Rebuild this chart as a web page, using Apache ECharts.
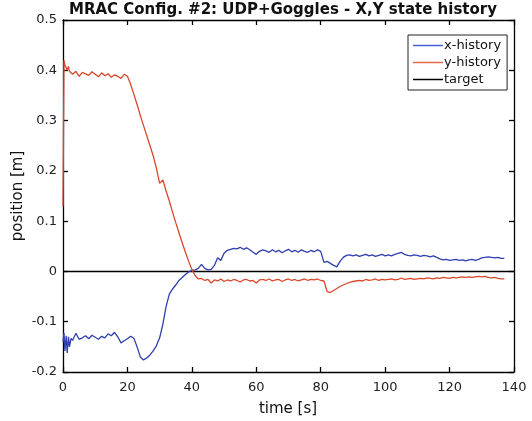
<!DOCTYPE html>
<html><head><meta charset="utf-8">
<script src="https://cdn.jsdelivr.net/npm/echarts@6/dist/echarts.min.js"></script>
<style>html,body{margin:0;padding:0;background:#fff}#c{width:532px;height:421px}</style>
</head><body><div id="c"></div>
<script>
var titleText = 'MRAC Config. #2: UDP+Goggles - X,Y state history';
var xLabel = 'time [s]';
var yLabel = 'position [m]';
var seriesNames = ['x-history', 'y-history', 'target'];

var timeS = [0,0.3,0.6,1,1.3,1.7,2,2.5,3,4,5,6,7,8,9,10,11,12,13,14,15,16,17,18,19,20,
21,22,23,24,25,26,27,28,29,30,31,32,33,34,35,36,37,38,39,40,41,42,43,44,45,46,47,48,49,50,
51,52,53,54,55,56,57,58,59,60,61,62,63,64,65,66,67,68,69,70,71,72,73,74,75,76,77,78,79,80,
81,82,83,84,85,86,87,88,89,90,91,92,93,94,95,96,97,98,99,100,101,102,103,104,105,106,107,108,109,110,
111,112,113,114,115,116,117,118,119,120,121,122,123,124,125,126,127,128,129,130,131,132,133,134,135,136,137];

var xHistory = [-0.14,-0.122,-0.158,-0.128,-0.162,-0.13,-0.15,-0.133,-0.137,-0.123,-0.135,-0.132,-0.128,-0.134,-0.127,-0.131,-0.135,-0.129,-0.132,-0.124,-0.128,-0.121,-0.13,-0.142,-0.138,-0.134,
-0.129,-0.133,-0.15,-0.17,-0.176,-0.172,-0.166,-0.158,-0.148,-0.132,-0.105,-0.07,-0.045,-0.035,-0.027,-0.018,-0.012,-0.006,-0.001,0.002,0.003,0.006,0.014,0.006,0.003,0.004,0.012,0.027,0.022,0.036,
0.042,0.044,0.046,0.045,0.048,0.044,0.047,0.043,0.038,0.034,0.04,0.043,0.041,0.038,0.043,0.039,0.042,0.037,0.041,0.044,0.039,0.042,0.038,0.043,0.04,0.038,0.042,0.039,0.043,0.04,
0.018,0.02,0.016,0.012,0.009,0.02,0.028,0.032,0.033,0.031,0.033,0.03,0.032,0.034,0.031,0.033,0.03,0.032,0.034,0.031,0.033,0.031,0.034,0.036,0.038,0.034,0.032,0.031,0.033,0.032,
0.03,0.032,0.031,0.029,0.031,0.028,0.025,0.023,0.024,0.022,0.023,0.024,0.022,0.023,0.021,0.023,0.024,0.022,0.024,0.027,0.028,0.029,0.028,0.027,0.028,0.026,0.026];

var yHistory = [0.13,0.42,0.41,0.405,0.4,0.408,0.398,0.395,0.392,0.398,0.388,0.396,0.393,0.39,0.397,0.392,0.387,0.395,0.389,0.393,0.386,0.391,0.388,0.384,0.392,0.388,
0.372,0.352,0.332,0.31,0.29,0.27,0.25,0.23,0.205,0.175,0.182,0.16,0.14,0.118,0.097,0.077,0.057,0.038,0.02,0.004,-0.008,-0.015,-0.014,-0.018,-0.016,-0.023,-0.017,-0.019,-0.015,-0.02,
-0.017,-0.019,-0.016,-0.018,-0.021,-0.017,-0.016,-0.019,-0.018,-0.023,-0.017,-0.016,-0.018,-0.015,-0.019,-0.017,-0.016,-0.02,-0.017,-0.015,-0.018,-0.016,-0.019,-0.017,-0.015,-0.018,-0.016,-0.017,-0.015,-0.018,
-0.019,-0.04,-0.042,-0.038,-0.034,-0.03,-0.027,-0.024,-0.022,-0.02,-0.019,-0.018,-0.019,-0.016,-0.018,-0.017,-0.015,-0.018,-0.016,-0.017,-0.016,-0.015,-0.017,-0.016,-0.013,-0.016,-0.015,-0.014,-0.016,-0.015,
-0.014,-0.015,-0.013,-0.014,-0.015,-0.013,-0.014,-0.012,-0.013,-0.014,-0.012,-0.013,-0.012,-0.011,-0.012,-0.011,-0.012,-0.011,-0.01,-0.011,-0.01,-0.012,-0.013,-0.012,-0.014,-0.015,-0.015];

var targetTime = [0, 140];
var targetVals = [0, 0];

var xTicks = [0,20,40,60,80,100,120,140];
var yTicks = [-0.2,-0.1,0,0.1,0.2,0.3,0.4,0.5];

function pairs(t, v){ return t.map(function(tt,i){ return [tt, v[i]]; }); }

var chart = echarts.init(document.getElementById('c'), null, {renderer:'canvas'});
var font = 'DejaVu Sans';
var axStyle = {color:'#000', width:1.3};
chart.setOption({
  animation:false,
  backgroundColor:'#fff',
  grid:{left:63, right:18, top:20, bottom:49, show:false},
  xAxis:[{
    type:'value', min:xTicks[0], max:xTicks[xTicks.length-1], interval:20,
    axisLine:{show:true, onZero:false, lineStyle:axStyle},
    axisTick:{show:true, inside:true, length:5, lineStyle:axStyle},
    axisLabel:{color:'#222', fontFamily:font, fontSize:13, margin:9},
    splitLine:{show:false}
  },{
    type:'value', position:'top', min:xTicks[0], max:xTicks[xTicks.length-1], interval:20,
    axisLine:{show:true, onZero:false, lineStyle:axStyle},
    axisTick:{show:true, inside:true, length:5, lineStyle:axStyle},
    axisLabel:{show:false}, splitLine:{show:false}
  }],
  yAxis:[{
    type:'value', min:yTicks[0], max:yTicks[yTicks.length-1], interval:0.1,
    axisLine:{show:true, onZero:false, lineStyle:axStyle},
    axisTick:{show:true, inside:true, length:5, lineStyle:axStyle},
    axisLabel:{color:'#222', fontFamily:font, fontSize:13, margin:6},
    splitLine:{show:false}
  },{
    type:'value', position:'right', min:yTicks[0], max:yTicks[yTicks.length-1], interval:0.1,
    axisLine:{show:true, onZero:false, lineStyle:axStyle},
    axisTick:{show:true, inside:true, length:5, lineStyle:axStyle},
    axisLabel:{show:false}, splitLine:{show:false}
  }],
  legend:{
    data:[
      {name:seriesNames[0], icon:'rect', itemStyle:{color:'#4a5fd0'}},
      {name:seriesNames[1], icon:'rect', itemStyle:{color:'#e0684a'}},
      {name:seriesNames[2], icon:'rect', itemStyle:{color:'#000'}}
    ],
    orient:'vertical', left:408, top:35, width:100,
    backgroundColor:'#fff', borderColor:'#222', borderWidth:1, padding:[4,6,4,5],
    itemWidth:30, itemHeight:1.5, itemGap:4,
    textStyle:{fontFamily:font, fontSize:13, color:'#111', padding:[0,0,0,-4]}
  },
  graphic:[
    {type:'text', x:283, y:3, style:{text:titleText, font:'bold 15px "DejaVu Sans"', fill:'#111', align:'center'}},
    {type:'text', x:288, y:402, style:{text:xLabel, font:'15px "DejaVu Sans"', fill:'#111', align:'center'}},
    {type:'text', x:18, y:196, rotation:Math.PI/2, style:{text:yLabel, font:'15px "DejaVu Sans"', fill:'#111', align:'center', verticalAlign:'middle'}}
  ],
  series:[
    {name:seriesNames[0], type:'line', symbol:'none', data:pairs(timeS, xHistory), lineStyle:{color:'#2f3fae', width:1.3}, itemStyle:{color:'#2f3fae'}, z:3},
    {name:seriesNames[1], type:'line', symbol:'none', data:pairs(timeS, yHistory), lineStyle:{color:'#d9472b', width:1.3}, itemStyle:{color:'#d9472b'}, z:3},
    {name:seriesNames[2], type:'line', symbol:'none', data:pairs(targetTime, targetVals), lineStyle:{color:'#000', width:1.5}, itemStyle:{color:'#000'}, z:2}
  ]
});
</script></body></html>
